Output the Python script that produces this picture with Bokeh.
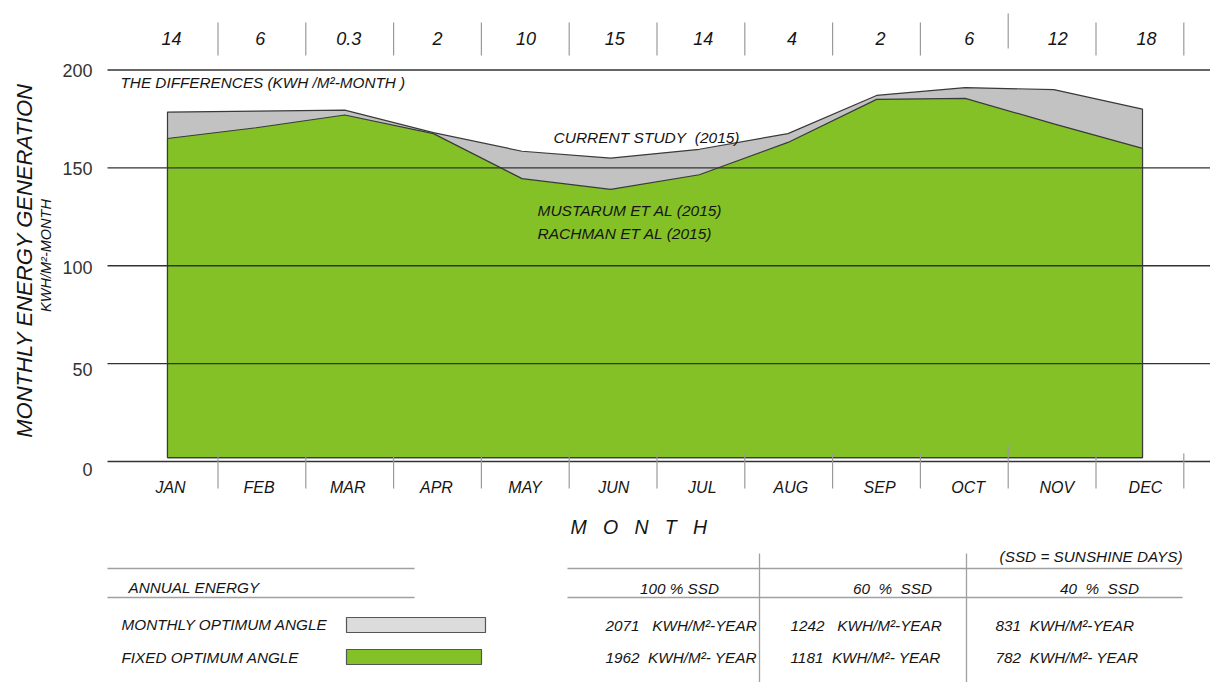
import math
from bokeh.plotting import figure
from bokeh.models import Range1d
from bokeh.embed import file_html
from bokeh.resources import INLINE
from bokeh.core.properties import value

# ---------------- data ----------------
months = ["JAN", "FEB", "MAR", "APR", "MAY", "JUN", "JUL", "AUG", "SEP", "OCT", "NOV", "DEC"]
monthly_optimum = [178.5, 179, 179.5, 168, 158.5, 155, 159.5, 167.5, 187, 191, 190, 180]
fixed_optimum = [165, 170.5, 177, 167.5, 144.5, 139, 146.5, 163, 185, 185.5, 172.5, 160]
differences = ["14", "6", "0.3", "2", "10", "15", "14", "4", "2", "6", "12", "18"]
y_ticks = [0, 50, 100, 150, 200]
area_base = 2

ssd_levels = ["100 % SSD", "60\u00a0\u00a0%\u00a0\u00a0SSD", "40\u00a0\u00a0%\u00a0\u00a0SSD"]
annual_monthly = [2071, 1242, 831]
annual_fixed = [1962, 1181, 782]
annual_rows = ["MONTHLY OPTIMUM ANGLE", "FIXED OPTIMUM ANGLE"]

# ---------------- layout helpers (image px -> data) ----------------
W, H = 1210, 682
OX, OY = 0, 0                 # where the figure lands on the page
IX0, DXP = 167.0, 88.636      # image x of JAN, px per month
IY0, DYP = 461.0, 1.9575      # image y of value 0, px per unit


def X(px):
    return (px - IX0) / DXP


def Y(py):
    return (IY0 - py) / DYP


FONT = value("Liberation Sans")
TXT = "#151515"

p = figure(width=W, height=H,
           x_range=Range1d(X(OX), X(OX + W)), y_range=Range1d(Y(OY + H), Y(OY)),
           output_backend="svg", toolbar_location=None,
           x_axis_type=None, y_axis_type=None, min_border=0,
           outline_line_color=None, background_fill_color="white",
           border_fill_color="white")


def txt(x, y, s, size, align="left", italic=True, angle=0.0, color=TXT,
        x_offset=0, y_offset=0):
    p.text(x=[x], y=[y], text=[s], text_font=FONT,
           text_font_size=f"{size}px",
           text_font_style="italic" if italic else "normal",
           text_align=align, text_baseline="middle", angle=angle,
           text_color=color, x_offset=x_offset, y_offset=y_offset)


# ---------------- areas ----------------
idx = list(range(len(months)))
xs = [idx[0]] + idx + [idx[-1]]
gray_y = [area_base] + monthly_optimum + [area_base]
green_y = [area_base] + fixed_optimum + [area_base]
p.patch(xs, gray_y, fill_color="#c2c2c2", line_color="#3a3a3a", line_width=1.2)
p.patch(xs, green_y, fill_color="#84c126", line_color="#3a3a3a", line_width=1.2)

# ---------------- horizontal grid lines ----------------
p.segment(x0=[X(107)] * len(y_ticks), x1=[X(1212)] * len(y_ticks),
          y0=y_ticks, y1=y_ticks, line_color="#333333", line_width=1.3)

# y tick labels (slightly drifting down, as in the original)
for t in y_ticks:
    off = {0: 8, 50: 6, 100: 2, 150: 1, 200: 0}[t]
    txt(X(92), t, str(t), 18, align="right", italic=False, color="#333333", y_offset=off)

# ---------------- top row of differences ----------------
div_x = [217.5 + 87.8 * k for k in range(12)]
for k, dx in enumerate(div_x):
    top, bot = (13, 48) if k == 9 else (22, 55)
    p.segment(x0=[X(dx)], x1=[X(dx)], y0=[Y(top)], y1=[Y(bot)],
              line_color="#9a9a9a", line_width=1.2)
p.text(x=idx, y=[Y(38)] * 12, text=differences, text_font=FONT,
       text_font_size="18px", text_font_style="italic", text_align="center",
       text_baseline="middle", text_color=TXT, x_offset=4)

# ---------------- bottom month row ----------------
for k, dx in enumerate(div_x):
    top = 445 if k == 9 else 453
    p.segment(x0=[X(dx)], x1=[X(dx)], y0=[Y(top)], y1=[Y(488)],
              line_color="#9a9a9a", line_width=1.2)
p.text(x=idx, y=[Y(487)] * 12, text=months, text_font=FONT,
       text_font_size="16px", text_font_style="italic", text_align="center",
       text_baseline="middle", text_color=TXT, x_offset=3)

# ---------------- annotations ----------------
txt(X(120), Y(82), "THE DIFFERENCES (KWH /M\u00b2-MONTH )", 15.3)
txt(X(553), Y(137), "CURRENT STUDY\u00a0\u00a0(2015)", 15.5)
txt(X(537), Y(210), "MUSTARUM ET AL (2015)", 15.5)
txt(X(537), Y(233), "RACHMAN ET AL (2015)", 15.5)

txt(X(24), Y(260), "MONTHLY ENERGY GENERATION", 22, align="center",
    angle=math.pi / 2)
txt(X(45), Y(255), "KWH/M\u00b2-MONTH", 14.5, align="center", angle=math.pi / 2)

txt(X(570), Y(526), "M\u00a0\u00a0\u00a0O\u00a0\u00a0\u00a0N\u00a0\u00a0\u00a0T\u00a0\u00a0\u00a0H", 19.5)

# ---------------- bottom table ----------------
tl = "#a0a0a0"
p.segment(x0=[X(107), X(107)], x1=[X(414), X(414)], y0=[Y(568), Y(597)],
          y1=[Y(568), Y(597)], line_color=tl, line_width=1.3)
p.segment(x0=[X(567), X(567)], x1=[X(1182), X(1182)], y0=[Y(568), Y(597)],
          y1=[Y(568), Y(597)], line_color=tl, line_width=1.3)
p.segment(x0=[X(759), X(966)], x1=[X(759), X(966)], y0=[Y(553), Y(553)],
          y1=[Y(684), Y(684)], line_color=tl, line_width=1.3)

txt(X(128), Y(587), "ANNUAL ENERGY", 15.3)
txt(X(121), Y(624), annual_rows[0], 15.3)
txt(X(121), Y(657), annual_rows[1], 15.3)
p.quad(left=[X(346)], right=[X(485)], top=[Y(617)], bottom=[Y(632)],
       fill_color="#dcdcdc", line_color="#555555", line_width=1.2)
p.quad(left=[X(346)], right=[X(481)], top=[Y(649)], bottom=[Y(664)],
       fill_color="#84c126", line_color="#555555", line_width=1.2)

txt(X(1182), Y(556), "(SSD = SUNSHINE DAYS)", 15.3, align="right")
hdr_cx = [679, 892, 1099]
for cx, s in zip(hdr_cx, ssd_levels):
    txt(X(cx), Y(588), s, 15.3, align="center")

col_left = [605, 790, 995]
for i, (cl, vm, vf) in enumerate(zip(col_left, annual_monthly, annual_fixed)):
    gap = "\u00a0\u00a0\u00a0" if i < 2 else "\u00a0\u00a0"
    txt(X(cl), Y(625), f"{vm}{gap}KWH/M\u00b2-YEAR", 15.3)
    txt(X(cl), Y(657), f"{vf}\u00a0\u00a0KWH/M\u00b2- YEAR", 15.3)

open("out.html", "w").write(file_html(p, INLINE))
